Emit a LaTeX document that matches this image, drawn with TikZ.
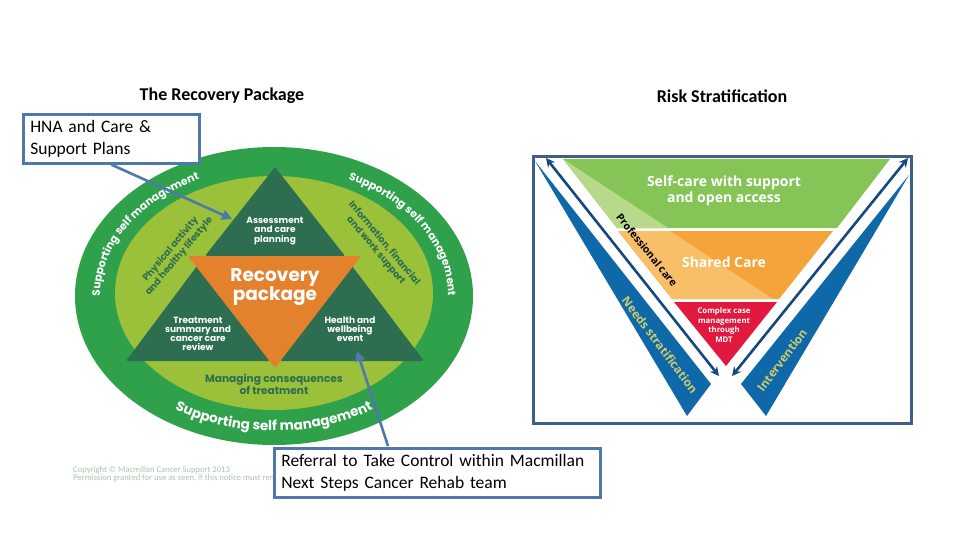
\documentclass[tikz,border=0pt]{standalone}
\usepackage{fontspec}
\usepackage{tikz}
\usetikzlibrary{arrows.meta,decorations.text}
\setmainfont{Carlito}
\newfontfamily\ringfont{Poppins}
\newfontfamily\riskfont{Open Sans}
\definecolor{ringout}{HTML}{2EA14A}
\definecolor{ringin}{HTML}{9BC03A}
\definecolor{triback}{HTML}{2C6E4F}
\definecolor{triorange}{HTML}{E3812C}
\definecolor{boxblue}{HTML}{4F79AC}
\definecolor{selfgreen}{HTML}{85C457}
\definecolor{selflight}{HTML}{B9D98A}
\definecolor{sharedorange}{HTML}{F5A33B}
\definecolor{sharedlight}{HTML}{F9BF68}
\definecolor{mdtred}{HTML}{E2183F}
\definecolor{bandblue}{HTML}{0F68A8}
\definecolor{arrowblue}{HTML}{15487F}
\definecolor{framesteel}{HTML}{3F5F8A}
\definecolor{bandtext}{HTML}{CFCB6E}
\definecolor{copygrey}{HTML}{A9C4AE}

\begin{document}
\begin{tikzpicture}[x=1pt, y=-1pt,
    title/.style={font=\fontsize{18}{20}\selectfont\bfseries, text=black},
    callout/.style={rectangle, draw=boxblue, line width=2.6pt, fill=white, align=left, anchor=north west, inner sep=0pt, text=black, font=\fontsize{17.5}{22}\selectfont},
    callarrow/.style={-{Triangle[length=10pt,width=10pt]}, draw=boxblue, line width=2.6pt},
    trilabel/.style={align=center, text=white, font=\ringfont\bfseries\fontsize{9}{9.2}\selectfont},
    innerlabel/.style={align=center, text=triback, font=\ringfont\bfseries\fontsize{9.4}{11}\selectfont},
    ringtext/.style 2 args={decorate, decoration={text along path, text align=center, text color=white, text={|\ringfont\bfseries\fontsize{#1}{14}\selectfont|#2}}},
    risklabel/.style={align=center, text=white, font=\riskfont\bfseries\fontsize{14}{16}\selectfont},
    bandlabel/.style={text=bandtext, font=\riskfont\bfseries\fontsize{11.8}{15}\selectfont},
    twoway/.style={{Stealth[length=9pt,width=9pt]}-{Stealth[length=9pt,width=9pt]}, draw=arrowblue, line width=2.6pt}]

\useasboundingbox (0,0) rectangle (960,540);

% titles
\node[title] (recoverytitle) at (222,95.5) {The Recovery Package};
\node[title] (risktitle) at (722,96) {Risk Stratification};

% recovery package rings
\fill[ringout] (274,296) ellipse [x radius=199, y radius=149];
\fill[ringin] (274,293) ellipse [x radius=159, y radius=117];

\path[ringtext={10.8}{Supporting self management}] plot[domain=200:100, samples=40] ({274+174*cos(\x)},{296-129*sin(\x)});
\path[ringtext={10.8}{Supporting self management}] plot[domain=80:-20, samples=40] ({274+174*cos(\x)},{296-129*sin(\x)});
\path[ringtext={13.5}{Supporting self management}] plot[domain=205:335, samples=40] ({274+182*cos(\x)},{296-135*sin(\x)});

% triangles
\fill[triback, rounded corners=1.5pt] (275,167) -- (345,256) -- (205,256) -- cycle;
\fill[triback, rounded corners=1.5pt] (197,266) -- (270,361) -- (126,361) -- cycle;
\fill[triback, rounded corners=1.5pt] (352,266) -- (424,361) -- (280,361) -- cycle;
\fill[triorange, rounded corners=1.5pt] (188,256) -- (361,256) -- (275,368) -- cycle;

\node[trilabel] (assess) at (275,231) {Assessment\\and care\\planning};
\node[trilabel] (treat) at (198,334) {Treatment\\summary and\\cancer care\\review};
\node[trilabel] (health) at (350,329) {Health and\\wellbeing\\event};
\node[align=center, text=white, font=\ringfont\bfseries\fontsize{18.5}{19}\selectfont] (recovery) at (275,287) {Recovery\\package};

\node[innerlabel, rotate=50] (physical) at (175,253) {Physical activity\\and healthy lifestyle};
\node[innerlabel, rotate=-50] (info) at (380,247) {Information, financial\\and work support};
\node[innerlabel, font=\ringfont\bfseries\fontsize{10.6}{10}\selectfont] (managing) at (274,384) {Managing consequences\\of treatment};

% faint copyright
\node[anchor=west, inner sep=0pt, text=copygrey, font=\fontsize{8.6}{9}\selectfont] (copyone) at (73,470) {Copyright \textcopyright{} Macmillan Cancer Support 2013};
\node[anchor=west, inner sep=0pt, text=copygrey, font=\fontsize{8.6}{9}\selectfont] (copytwo) at (73,478) {Permission granted for use as seen, if this notice must remain};

% risk stratification
\draw[draw=framesteel, line width=3pt] (533,157) rectangle (911.5,423);

\fill[selfgreen] (563,159) -- (890,159) -- (837,228) -- (617,228) -- cycle;
\fill[selflight] (563,159) -- (668,228) -- (617,228) -- cycle;
\fill[sharedorange] (618,231) -- (833,231) -- (779,299) -- (672,299) -- cycle;
\fill[sharedlight] (618,231) -- (670,231) -- (773,299) -- (672,299) -- cycle;
\fill[mdtred] (674,302) -- (777,302) -- (726,366) -- cycle;
\fill[bandblue] (535,161) -- (711,384) -- (687,416) -- cycle;
\fill[bandblue] (909,175) -- (741,384) -- (766,416) -- cycle;

\coordinate (leftup) at (546,158);
\coordinate (leftdown) at (719,376);
\coordinate (rightup) at (908,158);
\coordinate (rightdown) at (732,376);
\draw[twoway] (leftup) -- (leftdown);
\draw[twoway] (rightup) -- (rightdown);

\node[risklabel] (selfcare) at (724,191) {Self-care with support\\and open access};
\node[risklabel] (shared) at (724,262) {Shared Care};
\node[align=center, text=white, font=\riskfont\bfseries\fontsize{7.8}{9.4}\selectfont] (complex) at (724,325) {Complex case\\management\\through\\MDT};
\node[rotate=-51, text=black, font=\riskfont\bfseries\fontsize{10.5}{13}\selectfont] (professional) at (647,250) {Professional care};
\node[bandlabel, rotate=-53] (needs) at (660,345) {Needs stratification};
\node[bandlabel, rotate=53] (intervention) at (782,360) {Intervention};

% callouts
\node[callout, minimum width=176pt, minimum height=49pt, text width=162pt, inner xsep=7pt] (hnabox) at (22,113) {HNA and Care \&\\Support Plans};
\node[callout, minimum width=326pt, minimum height=49pt, text width=312pt, inner xsep=7pt] (referralbox) at (273,447) {Referral to Take Control within Macmillan\\Next Steps Cancer Rehab team};

\coordinate (assesspoint) at (232,219);
\coordinate (healthpoint) at (357,351);
\coordinate (referralstart) at (388,446);
\draw[callarrow] (hnabox.south) -- (assesspoint);
\draw[callarrow] (referralstart) -- (healthpoint);
\end{tikzpicture}
\end{document}
